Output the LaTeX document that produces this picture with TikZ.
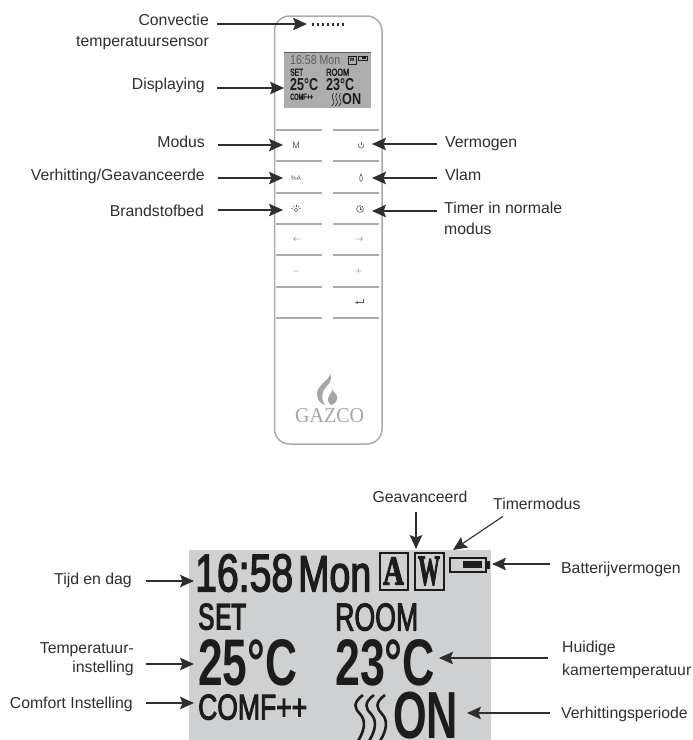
\documentclass[tikz,border=0pt]{standalone}
\usepackage{fontspec}
\usepackage{graphicx}
\usepackage{xcolor}
\setmainfont{Liberation Sans}
\newfontfamily\logofont{Liberation Serif}
\newfontfamily\lcdfont[FakeBold=3]{Liberation Sans}
\newfontfamily\lcdserif[FakeBold=3]{Liberation Serif Bold}
\usetikzlibrary{calc,arrows.meta,positioning}
\definecolor{inkx}{HTML}{2E2E2E}
\definecolor{shellx}{HTML}{ABABAB}
\definecolor{lcdbg}{HTML}{CFD0D2}
\definecolor{lcdsmall}{HTML}{ADADAD}
\definecolor{lcdink}{HTML}{1C1C1C}
\definecolor{keyx}{HTML}{5A5A5A}
\definecolor{logox}{HTML}{A6A6A6}
\newcommand{\lcdfit}[3]{\resizebox{#1pt}{#2pt}{#3}}
\tikzset{
  ar/.style={-{Stealth[length=14pt,width=12.5pt,inset=2.5pt]},line width=1.1pt,inkx,shorten <=#1},
  ar/.default=13pt,
  lbl/.style={font=\fontsize{15.8}{21}\selectfont,text=inkx,inner sep=0pt},
  lcd/.style={anchor=south west,inner sep=0pt,text=lcdink,font=\bfseries},
  lcdthin/.style={anchor=south west,inner sep=0pt,text=lcdink,font=\lcdfont},
  keyline/.style={line width=1.1pt,shellx},
  keyicon/.style={inner sep=0pt,text=keyx},
  keydraw/.style={draw=keyx,line width=0.6pt},
  heatline/.style={draw=lcdink,line width=#1},
  iconbox/.style={draw=lcdink,inner sep=0pt,line width=2pt,minimum height=37pt,text=lcdink,font=\lcdserif}
}
\begin{document}
\begin{tikzpicture}[x=1pt,y=-1pt]
\useasboundingbox (0,0) rectangle (693,740);
\draw[line width=1.5pt,shellx,fill=white,rounded corners=15pt] (274.5,16) rectangle (382,444);
\foreach \dx in {313,318,...,343}{\fill[inkx] (\dx-1,22.5) rectangle (\dx+1,26);}
\fill[lcdsmall] (284,52) rectangle (371,108);
\draw[line width=0.8pt,keyx] (284,52)--(371,52);
\node[lcdthin,text=keyx,font=\normalfont] (smalltime) at (290,65) {\lcdfit{50}{9}{16:58 Mon}};
\node[draw=lcdink,inner sep=0pt,minimum width=8pt,minimum height=8pt,font=\fontsize{5}{5}\bfseries\selectfont,line width=0.5pt] (smallw) at (352,60) {W};
\draw[lcdink,line width=0.5pt] (358,56) rectangle (367,60);
\fill[lcdink] (362,57) rectangle (366,59);
\node[lcdthin] (smallset) at (290,76) {\lcdfit{13}{7}{SET}};
\node[lcdthin] (smallroom) at (326,76) {\lcdfit{23}{7}{ROOM}};
\node[lcd] (smallleft) at (290,91) {\lcdfit{28}{12}{25°C}};
\node[lcd] (smallright) at (326,91) {\lcdfit{28}{12}{23°C}};
\node[lcdthin] (smallcomf) at (290,100) {\lcdfit{23}{6}{COMF++}};
\foreach \hx in {331,334.5,338}{\draw[heatline=0.6pt] (\hx+2.5,93) .. controls (\hx-1,97) and (\hx+4,101) .. (\hx+3,103) .. controls (\hx+2.5,104.5) and (\hx+1,105.5) .. (\hx+0.5,106);}
\node[lcd] (smallon) at (342,105) {\lcdfit{19}{11}{ON}};
\foreach \ky in {130,161,193,224,255,287,318}{
  \draw[keyline] (276,\ky)--(322,\ky);
  \draw[keyline] (333,\ky)--(379,\ky);
}
\node[keyicon,font=\fontsize{9}{9}\selectfont] (keym) at (296,145) {M};
\draw[keydraw] (358.8,143.5) arc[start angle=215,end angle=-35,radius=2.9];
\draw[keydraw] (361,141.5)--(361,145);
\node[keyicon,font=\fontsize{6.5}{6.5}\selectfont] (keyha) at (296,178) {\%A};
\draw[keydraw,fill=white] (361,174) .. controls (359,177) and (359.5,181) .. (361,181.5) .. controls (362.5,181) and (363,177) .. (361,174) -- cycle;
\draw[keydraw] (296,210) circle (1.7);
\foreach \ra in {20,55,90,125,160}{\draw[keydraw,line width=0.4pt] ($(296,210)+(\ra:-3)$)--($(296,210)+(\ra:-5.5)$);}
\draw[keydraw] (360,209) circle (3.4);
\draw[keydraw,line width=0.5pt] (360,206.8)--(360,209)--(362,209);
\node[keyicon,font=\footnotesize] (keyleft) at (297,239.5) {$\leftarrow$};
\node[keyicon,font=\footnotesize] (keyright) at (359,239.5) {$\rightarrow$};
\node[keyicon,font=\footnotesize] (keyminus) at (296,271) {$-$};
\node[keyicon,font=\footnotesize] (keyplus) at (359,271) {$+$};
\draw[keydraw,-{Stealth[length=3pt,width=3pt]}] (363.5,299)--(363.5,302.5)--(355,302.5);
\fill[logox] (330,373) .. controls (331,380) and (317,384) .. (317,394) .. controls (317,400) and (321,404) .. (325,405) .. controls (320,398) and (322,391) .. (327,386) .. controls (331,382) and (332,378) .. (330,373) -- cycle;
\fill[logox] (331,387) .. controls (334,391) and (330,394) .. (329,396) .. controls (327,399) and (328,403) .. (331,405) .. controls (335,404) and (338,400) .. (337,396) .. controls (336,393) and (332,391) .. (331,387) -- cycle;
\node[lcd,text=logox,font=\logofont] (logoname) at (295,423) {\lcdfit{69}{14}{GAZCO}};
\node[lbl,align=right,anchor=base east] (convectie) at (209,46) {Convectie\\temperatuursensor};
\node[lbl,anchor=base east] (displaying) at (205,89) {Displaying};
\node[lbl,anchor=base east] (modus) at (205,147) {Modus};
\node[lbl,anchor=base east] (verhitting) at (205,180) {Verhitting/Geavanceerde};
\node[lbl,anchor=base east] (brandstof) at (204,216) {Brandstofbed};
\node[lbl,anchor=base west] (vermogen) at (445,147) {Vermogen};
\node[lbl,anchor=base west] (vlam) at (445,180) {Vlam};
\node[lbl,align=left,anchor=base west] (timer) at (444,234) {Timer in normale\\modus};
\coordinate (convectietip) at (307,24);
\coordinate (displaytip) at (284,88);
\coordinate (modustip) at (283,145);
\coordinate (verhittingtip) at (283,178);
\coordinate (brandstoftip) at (283,210);
\coordinate (vermogentip) at (372,144);
\coordinate (vlamtip) at (372,178);
\coordinate (timertip) at (372,211);
\draw[ar=8pt] (convectie.east |- convectietip) -- (convectietip);
\draw[ar=12pt] (displaying.east |- displaytip) -- (displaytip);
\draw[ar] (modus.east |- modustip) -- (modustip);
\draw[ar] (verhitting.east |- verhittingtip) -- (verhittingtip);
\draw[ar=14pt] (brandstof.east |- brandstoftip) -- (brandstoftip);
\draw[ar=8pt] (vermogen.west |- vermogentip) -- (vermogentip);
\draw[ar=8pt] (vlam.west |- vlamtip) -- (vlamtip);
\draw[ar=7pt] (timer.west |- timertip) -- (timertip);
\fill[lcdbg] (189,550) rectangle (491,740);
\node[lcdthin] (bigtime) at (195,592) {\lcdfit{98}{37}{16:58}};
\node[lcdthin] (bigday) at (298,592) {\lcdfit{73}{35}{Mon}};
\node[iconbox,minimum width=28pt] (boxa) at (393.5,571) {\lcdfit{21}{27}{A}};
\node[iconbox,minimum width=29pt] (boxw) at (429,571) {\lcdfit{22}{28}{W}};
\draw[lcdink,line width=2pt] (450,558) rectangle (486,572);
\fill[lcdink] (486,561) rectangle (489.5,569);
\fill[lcdink] (463,561) rectangle (482,568);
\node[lcd] (bigset) at (198,631) {\lcdfit{49}{27}{SET}};
\node[lcdthin] (bigroom) at (335,631) {\lcdfit{83}{27}{ROOM}};
\node[lcd] (bigleft) at (198,686) {\lcdfit{99}{46}{25°C}};
\node[lcd] (bigright) at (335,686) {\lcdfit{100}{46}{23°C}};
\node[lcdthin] (bigcomf) at (198,720) {\lcdfit{109}{25}{COMF++}};
\foreach \hx in {353,364,375}{\draw[heatline=2.6pt] (\hx+10,695) .. controls (\hx-1,703) and (\hx+2,709) .. (\hx+7,714) .. controls (\hx+13,720) and (\hx+12,730) .. (\hx+5,741);}
\node[lcd] (bigon) at (393,739.5) {\lcdfit{65}{46.5}{ON}};
\node[lbl,anchor=base east] (tijd) at (132,584) {Tijd en dag};
\node[lbl,align=right,anchor=base east] (instelling) at (134,672) {Temperatuur-\\[-2pt]instelling};
\node[lbl,anchor=base east] (comfort) at (133,708) {Comfort Instelling};
\node[lbl,anchor=base] (geav) at (420,502) {Geavanceerd};
\node[lbl,anchor=base west] (timermodus) at (493,509) {Timermodus};
\node[lbl,anchor=base west] (batterij) at (561,573) {Batterijvermogen};
\node[lbl,align=left,anchor=base west] (huidige) at (562,675) {Huidige\\[2pt]kamertemperatuur};
\node[lbl,anchor=base west] (periode) at (561,718) {Verhittingsperiode};
\coordinate (tijdtip) at (194,581);
\coordinate (instellingtip) at (194,664);
\coordinate (comforttip) at (194,703);
\coordinate (geavtip) at (416,549);
\coordinate (timermodustip) at (453,550);
\coordinate (batterijtip) at (492,564);
\coordinate (huidigetip) at (439,658);
\coordinate (periodetip) at (467,713);
\draw[ar=14pt] (tijd.east |- tijdtip) -- (tijdtip);
\draw[ar=12pt] (instelling.east |- instellingtip) -- (instellingtip);
\draw[ar] (comfort.east |- comforttip) -- (comforttip);
\draw[ar=10pt] (geav.south -| geavtip) -- (geavtip);
\draw[ar=0pt] ([shift={(10,7)}]timermodus.south west) -- (timermodustip);
\draw[ar=11pt] (batterij.west |- batterijtip) -- (batterijtip);
\draw[ar=14pt] (huidige.west |- huidigetip) -- (huidigetip);
\draw[ar=11pt] (periode.west |- periodetip) -- (periodetip);
\end{tikzpicture}
\end{document}
